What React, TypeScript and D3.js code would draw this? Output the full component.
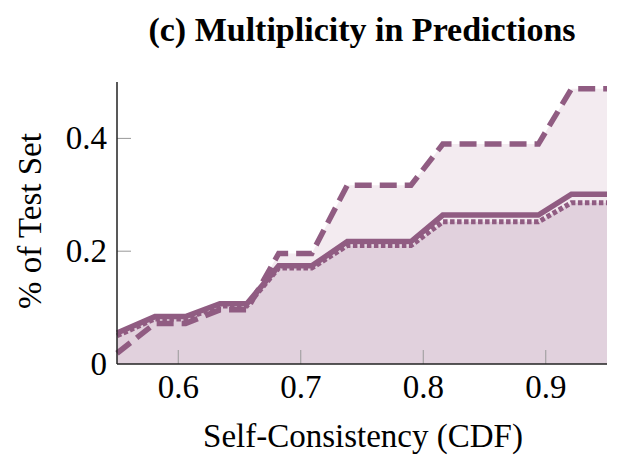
import React from "react";
import * as d3 from "d3";

const xs = [0.55, 0.581, 0.606, 0.634, 0.656, 0.682, 0.709, 0.738, 0.79, 0.816, 0.894, 0.921, 0.95];
const solidVals = [0.055, 0.084, 0.084, 0.107, 0.107, 0.174, 0.174, 0.217, 0.217, 0.264, 0.264, 0.301, 0.301];
const dottedVals = [0.05, 0.08, 0.08, 0.103, 0.103, 0.17, 0.17, 0.21, 0.21, 0.252, 0.252, 0.286, 0.286];
const dashedVals = [0.019, 0.072, 0.072, 0.096, 0.096, 0.196, 0.196, 0.317, 0.317, 0.39, 0.39, 0.488, 0.488];
const xTicks = [0.6, 0.7, 0.8, 0.9];
const yTicks = [0, 0.2, 0.4];

const W = 638, H = 467;
const left = 117, right = 607, top = 82, bottom = 364;
const lineColor = "#905c82";
const font = "Liberation Serif, Times New Roman, Times, serif";

export default function App() {
  const x = d3.scaleLinear().domain([0.55, 0.95]).range([left, right]);
  const y = d3.scaleLinear().domain([0, 0.5]).range([bottom, top]);
  const mk = (vals: number[]) => xs.map((xv, i) => [xv, vals[i]] as [number, number]);
  const line = d3.line<[number, number]>().x(d => x(d[0])).y(d => y(d[1]));
  const area = d3.area<[number, number]>().x(d => x(d[0])).y0(y(0)).y1(d => y(d[1]));
  const fmt = (v: number) => (v === 0 ? "0" : d3.format(".1f")(v));
  return (
    <svg width={W} height={H} style={{ position: "absolute", left: 0, top: 0, background: "#fff", fontFamily: font }}>
      <path d={area(mk(dashedVals)) || ""} fill="#f3ebf0" />
      <path d={area(mk(dottedVals)) || ""} fill="#e1d1dd" />
      {xTicks.map(t => (
        <line key={"xt" + t} x1={x(t)} x2={x(t)} y1={bottom} y2={bottom - 14} stroke="#999" strokeWidth={1} />
      ))}
      {yTicks.filter(t => t > 0).map(t => (
        <line key={"yt" + t} x1={left} x2={left + 14} y1={y(t)} y2={y(t)} stroke="#999" strokeWidth={1} />
      ))}
      <path d={line(mk(dashedVals)) || ""} fill="none" stroke={lineColor} strokeWidth={5.5} strokeDasharray="17 8" />
      <path d={line(mk(dottedVals)) || ""} fill="none" stroke={lineColor} strokeWidth={5} strokeDasharray="4.5 2.5" />
      <path d={line(mk(solidVals)) || ""} fill="none" stroke={lineColor} strokeWidth={5.5} />
      <line x1={left} x2={left} y1={top} y2={bottom} stroke="#222" strokeWidth={1.5} />
      <line x1={left} x2={right} y1={bottom} y2={bottom} stroke="#222" strokeWidth={1.5} />
      {xTicks.map(t => (
        <text key={"xl" + t} x={x(t)} y={398} textAnchor="middle" fontSize={33}>{fmt(t)}</text>
      ))}
      {yTicks.map(t => (
        <text key={"yl" + t} x={107} y={y(t) + 11} textAnchor="end" fontSize={33}>{fmt(t)}</text>
      ))}
      <text x={363} y={447} textAnchor="middle" fontSize={33}>Self-Consistency (CDF)</text>
      <text transform={`translate(41,${(top + bottom) / 2 - 2}) rotate(-90)`} textAnchor="middle" fontSize={33}>% of Test Set</text>
      <text x={362} y={41} textAnchor="middle" fontSize={34} fontWeight="bold">(c) Multiplicity in Predictions</text>
    </svg>
  );
}
